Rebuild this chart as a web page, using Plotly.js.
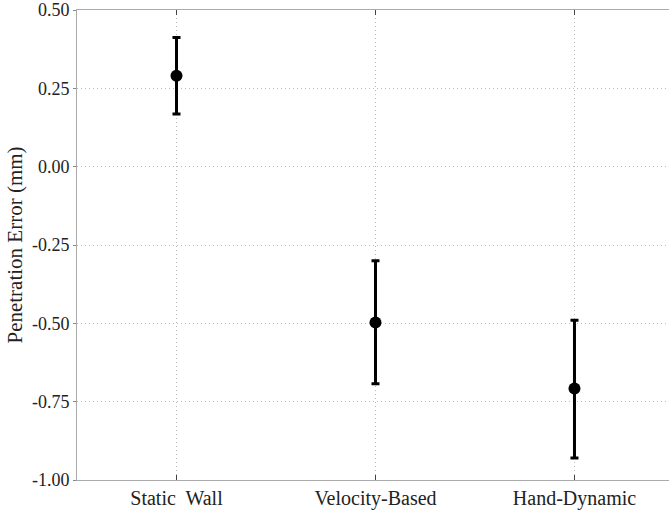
<!DOCTYPE html>
<html><head><meta charset="utf-8">
<script src="https://cdn.plot.ly/plotly-3.0.1.min.js"></script>
<style>body{margin:0;padding:0;background:#fff}</style>
</head><body>
<div id="chart" style="width:669px;height:512px"></div>
<script>
var categories = ["Static  Wall", "Velocity-Based", "Hand-Dynamic"];
var means = [0.29, -0.497, -0.708];
var errPlus = [0.122, 0.197, 0.218];
var errMinus = [0.122, 0.196, 0.222];
var yTicks = [0.5, 0.25, 0, -0.25, -0.5, -0.75, -1.0];
var yTickLabels = ["0.50", "0.25", "0.00", "-0.25", "-0.50", "-0.75", "-1.00"];

var xs = categories.map(function(c, i){ return i; });

var trace = {
  x: xs, y: means, type: 'scatter', mode: 'markers',
  marker: {color: '#000', size: 12},
  error_y: {type: 'data', symmetric: false, array: errPlus, arrayminus: errMinus,
            color: '#000', thickness: 3, width: 4},
  hoverinfo: 'none', showlegend: false
};

var layout = {
  width: 669, height: 512,
  margin: {l: 77, r: 0, t: 10, b: 32},
  paper_bgcolor: '#fff', plot_bgcolor: '#fff',
  font: {family: 'Liberation Serif, Times New Roman, serif', color: '#222', size: 18},
  xaxis: {
    range: [-0.5, 2.475], tickvals: xs, ticktext: categories,
    showgrid: true, gridcolor: '#bbb', griddash: '1px,3px', gridwidth: 1,
    showline: true, linecolor: '#aaa', linewidth: 1, mirror: 'ticks',
    ticks: 'inside', ticklen: 5, tickcolor: '#444', zeroline: false,
    tickfont: {size: 20}
  },
  yaxis: {
    range: [-1.0, 0.5], tickvals: yTicks, ticktext: yTickLabels,
    showgrid: true, gridcolor: '#bbb', griddash: '1px,3px', gridwidth: 1,
    showline: true, linecolor: '#aaa', linewidth: 1, mirror: true,
    ticks: 'outside', ticklen: 3, tickcolor: '#888', zeroline: false,
    tickfont: {size: 18},
    title: {text: 'Penetration Error (mm)', font: {size: 21}, standoff: 3}
  }
};
Plotly.newPlot('chart', [trace], layout, {displayModeBar: false, staticPlot: true});
</script>
</body></html>
